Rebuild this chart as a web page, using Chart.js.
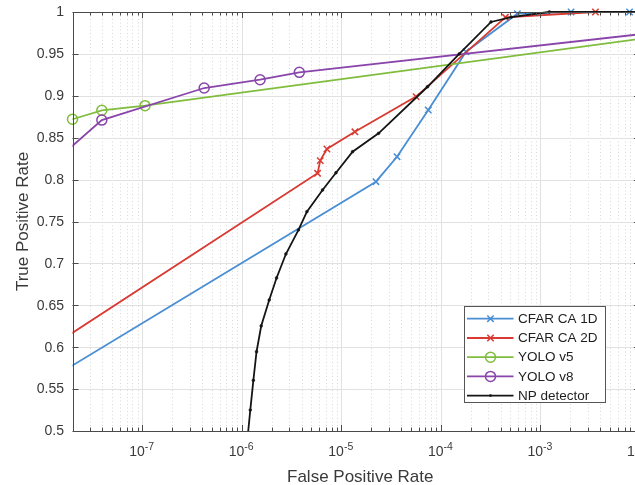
<!DOCTYPE html>
<html><head><meta charset="utf-8">
<script src="https://cdn.jsdelivr.net/npm/chart.js@4.4.1/dist/chart.umd.min.js"></script>
<style>html,body{margin:0;padding:0;overflow:hidden;background:#fff;width:635px;height:485px}canvas{display:block}</style>
</head><body>
<canvas id="c" width="680" height="485"></canvas>
<script>
// ---- data ----
const cfar1dFpr = [1e-8, 2.23e-5, 3.63e-5, 7.48e-5, 1.79e-4, 5.87e-4, 2.03e-3, 7.85e-3];
const cfar1dTpr = [0.5565, 0.7975, 0.8273, 0.883, 0.9526, 0.998, 1.0, 1.0];
const cfar2dFpr = [1e-8, 5.78e-6, 6.15e-6, 7.18e-6, 1.37e-5, 5.64e-5, 4.45e-4, 3.57e-3];
const cfar2dTpr = [0.594, 0.8075, 0.8226, 0.8365, 0.857, 0.899, 0.9937, 1.0];
const yolo5Fpr = [2e-8, 3.94e-8, 1.07e-7, 1];
const yolo5Tpr = [0.872, 0.8827, 0.8882, 1.0];
const yolo8Fpr = [1e-8, 3.94e-8, 4.2e-7, 1.53e-6, 3.79e-6, 1];
const yolo8Tpr = [0.809, 0.871, 0.9093, 0.9192, 0.928, 1.0];
const npFpr = [1.11e-6, 1.22e-6, 1.31e-6, 1.41e-6, 1.57e-6, 1.89e-6, 2.24e-6, 2.78e-6, 3.72e-6, 4.52e-6, 6.49e-6, 8.85e-6, 1.30e-5, 2.37e-5, 7.36e-5, 1.53e-4, 3.19e-4, 5.1e-4, 1.23e-3, 1e-2];
const npTpr = [0.475, 0.525, 0.5605, 0.5946, 0.6253, 0.6563, 0.6826, 0.7112, 0.7399, 0.7617, 0.7876, 0.8082, 0.8333, 0.8552, 0.9108, 0.95, 0.9881, 0.994, 1.0, 1.0];
const seriesNames = ['CFAR CA 1D', 'CFAR CA 2D', 'YOLO v5', 'YOLO v8', 'NP detector'];
const xTickExps = [-7, -6, -5, -4, -3, -2];
const yTickValues = [0.5, 0.55, 0.6, 0.65, 0.7, 0.75, 0.8, 0.85, 0.9, 0.95, 1];
const yTickLabels = ['0.5', '0.55', '0.6', '0.65', '0.7', '0.75', '0.8', '0.85', '0.9', '0.95', '1'];
const xTitle = 'False Positive Rate';
const yTitle = 'True Positive Rate';

// ---- styling ----
const FONT = '"Liberation Sans", Arial, Helvetica, sans-serif';
const TXT = '#3a3a3a';
const AXC = '#4a4a4a';
const styles = [
  {color: '#4a8ed4', ps: 'crossRot', r: 4.5, fill: false, order: 5, clip: {left: 0, top: 6, right: 0, bottom: 0}},
  {color: '#d93a32', ps: 'crossRot', r: 4.5, fill: false, order: 4, clip: {left: 0, top: 6, right: 0, bottom: 0}},
  {color: '#80bd3e', ps: 'circle', r: 5, fill: false, order: 3, clip: {left: 7, top: 0, right: 0, bottom: 0}},
  {color: '#8a45ab', ps: 'circle', r: 5, fill: false, order: 2, clip: {left: 0, top: 0, right: 0, bottom: 0}},
  {color: '#151515', ps: 'circle', r: 1.4, fill: true, order: 1, clip: {left: 0, top: 3, right: 0, bottom: 0}}
];
const xs = [cfar1dFpr, cfar2dFpr, yolo5Fpr, yolo8Fpr, npFpr];
const ys = [cfar1dTpr, cfar2dTpr, yolo5Tpr, yolo8Tpr, npTpr];

const datasets = seriesNames.map((name, i) => {
  const s = styles[i];
  return {
    label: name,
    data: xs[i].map((x, k) => ({x: x, y: ys[i][k]})),
    borderColor: s.color,
    backgroundColor: s.fill ? s.color : 'rgba(0,0,0,0)',
    pointBorderColor: s.color,
    pointBackgroundColor: s.fill ? s.color : 'rgba(0,0,0,0)',
    pointStyle: s.ps,
    pointRadius: s.r,
    pointBorderWidth: s.fill ? 0.5 : 1.5,
    borderWidth: 1.8,
    tension: 0,
    order: s.order,
    clip: s.clip
  };
});

function drawMarker(ctx, s, x, y) {
  ctx.save();
  ctx.strokeStyle = s.color; ctx.fillStyle = s.color; ctx.lineWidth = 1.5;
  if (s.ps === 'crossRot') {
    const d = s.r * Math.SQRT1_2;
    ctx.beginPath(); ctx.moveTo(x - d, y - d); ctx.lineTo(x + d, y + d);
    ctx.moveTo(x - d, y + d); ctx.lineTo(x + d, y - d); ctx.stroke();
  } else {
    ctx.beginPath(); ctx.arc(x, y, s.r, 0, Math.PI * 2);
    if (s.fill) ctx.fill(); else ctx.stroke();
  }
  ctx.restore();
}

const deco = {
  id: 'deco',
  beforeDatasetsDraw(chart) {
    const {ctx, chartArea: a, scales: {x, y}} = chart;
    ctx.save();
    ctx.beginPath(); ctx.rect(a.left, a.top, a.right - a.left, a.bottom - a.top); ctx.clip();
    ctx.lineWidth = 1;
    ctx.strokeStyle = 'rgba(0,0,0,0.15)';
    ctx.setLineDash([1, 2.5]);
    for (let e = -8; e <= -2; e++) {
      for (let m = 2; m <= 9; m++) {
        const v = m * Math.pow(10, e);
        if (v < x.min || v > x.max) continue;
        const px = Math.round(x.getPixelForValue(v)) + 0.5;
        ctx.beginPath(); ctx.moveTo(px, a.top); ctx.lineTo(px, a.bottom); ctx.stroke();
      }
    }
    ctx.setLineDash([]);
    ctx.strokeStyle = '#e1e1e1';
    xTickExps.forEach(e => {
      const px = Math.round(x.getPixelForValue(Math.pow(10, e))) + 0.5;
      ctx.beginPath(); ctx.moveTo(px, a.top); ctx.lineTo(px, a.bottom); ctx.stroke();
    });
    yTickValues.forEach(v => {
      const py = Math.round(y.getPixelForValue(v)) + 0.5;
      ctx.beginPath(); ctx.moveTo(a.left, py); ctx.lineTo(a.right, py); ctx.stroke();
    });
    ctx.restore();
  },
  afterDraw(chart) {
    const {ctx, chartArea: a, scales: {x, y}} = chart;
    ctx.save();
    // axis box
    ctx.strokeStyle = AXC; ctx.lineWidth = 1;
    ctx.strokeRect(Math.round(a.left) + 0.5, Math.round(a.top) + 0.5, Math.round(a.right - a.left), Math.round(a.bottom - a.top));
    // x ticks (inward)
    ctx.beginPath();
    for (let e = -8; e <= -2; e++) {
      for (let m = 1; m <= 9; m++) {
        const v = m * Math.pow(10, e);
        if (v < x.min || v > x.max) continue;
        const px = Math.round(x.getPixelForValue(v)) + 0.5;
        const len = m === 1 ? 6 : 3.5;
        ctx.moveTo(px, a.bottom); ctx.lineTo(px, a.bottom - len);
        ctx.moveTo(px, a.top); ctx.lineTo(px, a.top + len);
      }
    }
    yTickValues.forEach(v => {
      const py = Math.round(y.getPixelForValue(v)) + 0.5;
      ctx.moveTo(a.left, py); ctx.lineTo(a.left + 6, py);
      ctx.moveTo(a.right, py); ctx.lineTo(a.right - 6, py);
    });
    ctx.stroke();
    // y tick labels
    ctx.fillStyle = TXT;
    ctx.font = '14px ' + FONT;
    ctx.textAlign = 'right'; ctx.textBaseline = 'middle';
    yTickValues.forEach((v, i) => {
      ctx.fillText(yTickLabels[i], a.left - 8.5, y.getPixelForValue(v) + 0.5);
    });
    // x tick labels 10^e
    ctx.textBaseline = 'alphabetic'; ctx.textAlign = 'left';
    xTickExps.forEach(e => {
      const px = x.getPixelForValue(Math.pow(10, e));
      ctx.font = '14px ' + FONT;
      const wb = ctx.measureText('10').width;
      ctx.font = '10.5px ' + FONT;
      const es = '-' + Math.abs(e);
      const we = ctx.measureText(es).width;
      const x0 = px - (wb + we) / 2 - 0.5;
      ctx.font = '14px ' + FONT;
      ctx.fillText('10', x0, 456);
      ctx.font = '10.5px ' + FONT;
      ctx.fillText(es, x0 + wb, 449.5);
    });
    // axis titles
    ctx.font = '17px ' + FONT;
    ctx.textAlign = 'center';
    ctx.fillText(xTitle, (a.left + a.right) / 2 + 4, 481.5);
    ctx.save();
    ctx.translate(27.5, (a.top + a.bottom) / 2);
    ctx.rotate(-Math.PI / 2);
    ctx.fillText(yTitle, 0, 0);
    ctx.restore();
    // legend
    const lx = 464.5, ly = 306.5, lw = 141, lh = 96;
    ctx.fillStyle = '#ffffff';
    ctx.fillRect(lx, ly, lw, lh);
    ctx.strokeStyle = '#555555'; ctx.lineWidth = 1;
    ctx.strokeRect(lx, ly, lw, lh);
    const rows = [318.7, 338, 357.2, 376.4, 395.6];
    seriesNames.forEach((name, i) => {
      const s = styles[i];
      const ry = rows[i];
      ctx.strokeStyle = s.color; ctx.lineWidth = 1.8;
      ctx.beginPath(); ctx.moveTo(467, ry); ctx.lineTo(513.5, ry); ctx.stroke();
      drawMarker(ctx, s, 490.5, ry);
      ctx.fillStyle = '#1e1e1e';
      ctx.font = '13.5px ' + FONT;
      ctx.textAlign = 'left'; ctx.textBaseline = 'middle';
      ctx.fillText(name, 518, ry + 0.5);
    });
    ctx.restore();
  }
};

new Chart(document.getElementById('c'), {
  type: 'line',
  data: {datasets: datasets},
  options: {
    responsive: false,
    animation: false,
    devicePixelRatio: 1,
    layout: {padding: {left: 0, right: 40, top: 12, bottom: 0}},
    plugins: {legend: {display: false}, tooltip: {enabled: false}},
    scales: {
      x: {
        type: 'logarithmic', min: 2e-8, max: 1e-2,
        afterFit(s) { s.height = 54; },
        afterBuildTicks(s) { s.ticks = xTickExps.map(e => ({value: Math.pow(10, e)})); },
        ticks: {display: false}, grid: {display: false}, border: {display: false}
      },
      y: {
        type: 'linear', min: 0.5, max: 1,
        afterFit(s) { s.width = 72.5; },
        afterBuildTicks(s) { s.ticks = yTickValues.map(v => ({value: v})); },
        ticks: {display: false}, grid: {display: false}, border: {display: false}
      }
    }
  },
  plugins: [deco]
});
</script>
</body></html>
